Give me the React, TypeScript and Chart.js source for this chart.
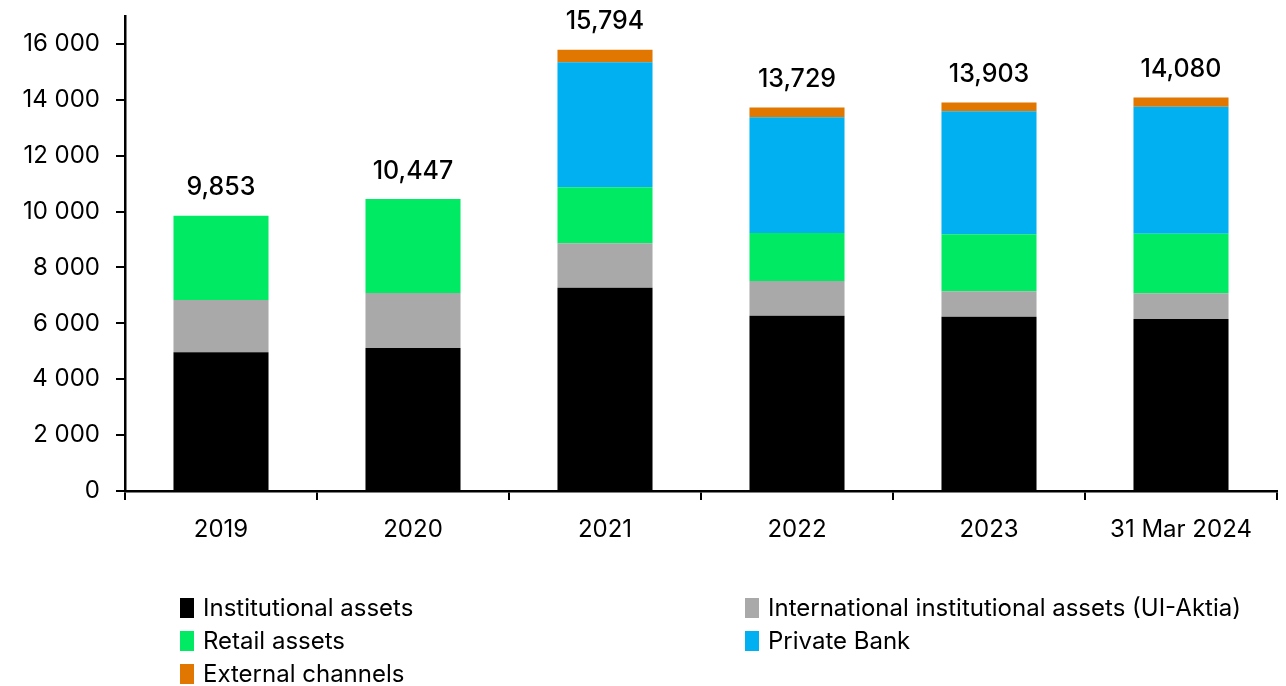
import React, { useEffect, useRef } from "react";
import { Chart, registerables } from "chart.js";

Chart.register(...registerables);

const categories = ["2019", "2020", "2021", "2022", "2023", "31 Mar 2024"];
const institutional = [4965, 5120, 7277, 6275, 6239, 6156];
const international = [1871, 1967, 1589, 1241, 908, 919];
const retail = [3017, 3360, 2004, 1718, 2040, 2135];
const privateBank = [0, 0, 4473, 4141, 4403, 4545];
const external = [0, 0, 451, 354, 313, 325];
const totals = [9853, 10447, 15794, 13729, 13903, 14080];
const yTicks = [0, 2000, 4000, 6000, 8000, 10000, 12000, 14000, 16000];

const FONT = "Inter, 'Noto Sans', sans-serif";

const fmtSpace = (v: number) => String(v).replace(/\B(?=(\d{3})+(?!\d))/g, " ");
const fmtComma = (v: number) => String(v).replace(/\B(?=(\d{3})+(?!\d))/g, ",");

const totalsPlugin = {
  id: "totals",
  afterDatasetsDraw(chart: any) {
    const ctx = chart.ctx;
    const xs = chart.scales.x;
    const ys = chart.scales.y;
    ctx.save();
    ctx.font = `500 25px ${FONT}`;
    ctx.fillStyle = "#000";
    ctx.textAlign = "center";
    ctx.textBaseline = "middle";
    totals.forEach((t, i) => {
      const x = xs.getPixelForValue(i);
      const y = ys.getPixelForValue(t);
      ctx.fillText(fmtComma(t), x, y - 28);
    });
    ctx.restore();
  },
};

const legendPlugin = {
  id: "customLegend",
  afterDraw(chart: any) {
    const ctx = chart.ctx;
    ctx.save();
    ctx.font = `400 24px ${FONT}`;
    ctx.textBaseline = "middle";
    ctx.textAlign = "left";
    chart.data.datasets.forEach((ds: any, i: number) => {
      const col = i % 2;
      const row = Math.floor(i / 2);
      const bx = col === 0 ? 180 : 745;
      const cy = 608 + row * 33;
      ctx.fillStyle = ds.backgroundColor;
      ctx.fillRect(bx, cy - 10, 14, 20);
      ctx.fillStyle = "#000";
      ctx.fillText(ds.label, bx + 23, cy + 1);
    });
    ctx.restore();
  },
};

export default function App() {
  const ref = useRef<HTMLCanvasElement>(null);
  useEffect(() => {
    if (!ref.current) return;
    const chart = new Chart(ref.current, {
      type: "bar",
      data: {
        labels: categories,
        datasets: [
          { label: "Institutional assets", data: institutional, backgroundColor: "#000000" },
          { label: "International institutional assets (UI-Aktia)", data: international, backgroundColor: "#A9A9A9" },
          { label: "Retail assets", data: retail, backgroundColor: "#00EA64" },
          { label: "Private Bank", data: privateBank, backgroundColor: "#00B0F0" },
          { label: "External channels", data: external, backgroundColor: "#E17700" },
        ],
      },
      options: {
        animation: false,
        responsive: false,
        maintainAspectRatio: false,
        layout: { padding: { top: 16, right: 9, bottom: 100, left: 0 } },
        plugins: {
          legend: { display: false },
          tooltip: { enabled: false },
        },
        datasets: {
          bar: { categoryPercentage: 1, barPercentage: 0.495, borderWidth: 0 },
        },
        scales: {
          x: {
            stacked: true,
            offset: true,
            grid: {
              offset: true,
              drawOnChartArea: false,
              drawTicks: true,
              tickLength: 9,
              color: "#000",
              lineWidth: 2,
            },
            border: { display: true, color: "#000", width: 2.5 },
            ticks: {
              color: "#000",
              font: { family: FONT, size: 24 },
              padding: 15,
              maxRotation: 0,
              autoSkip: false,
            },
            afterFit(scale: any) {
              scale.height = 95;
              scale.paddingLeft = 0;
              scale.paddingRight = 0;
            },
          },
          y: {
            stacked: true,
            min: 0,
            max: 17000,
            afterBuildTicks(scale: any) {
              scale.ticks = yTicks.map((v) => ({ value: v }));
            },
            grid: {
              drawOnChartArea: false,
              drawTicks: true,
              tickLength: 9,
              color: "#000",
              lineWidth: 2,
            },
            border: { display: true, color: "#000", width: 2.5 },
            ticks: {
              color: "#000",
              font: { family: FONT, size: 24 },
              padding: 16,
              callback: (v: any) => fmtSpace(Number(v)),
            },
            afterFit(scale: any) {
              scale.width = 125;
              scale.paddingTop = 0;
              scale.paddingBottom = 0;
            },
          },
        },
      },
      plugins: [totalsPlugin, legendPlugin],
    });
    return () => chart.destroy();
  }, []);
  return (
    <div style={{ position: "absolute", left: 0, top: 0, width: 1286, height: 686, background: "#fff" }}>
      <canvas ref={ref} width={1286} height={686} style={{ display: "block" }} />
    </div>
  );
}
